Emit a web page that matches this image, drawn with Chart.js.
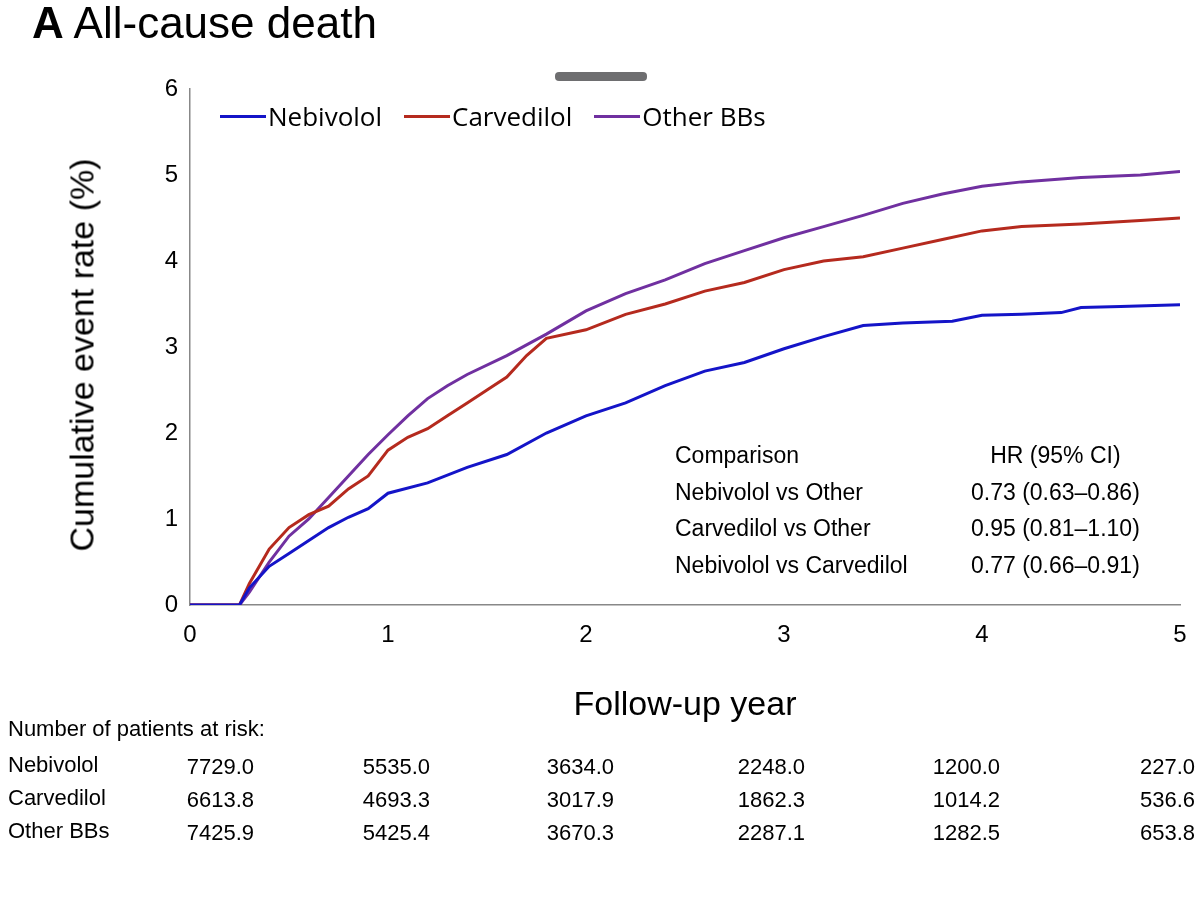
<!DOCTYPE html>
<html><head><meta charset="utf-8">
<script src="https://cdn.jsdelivr.net/npm/chart.js@4.4.7/dist/chart.umd.min.js"></script>
<style>
body{margin:0;background:#fff;font-family:"Liberation Sans",Arial,sans-serif;}
#wrap{position:relative;width:1200px;height:901px;overflow:hidden;}
.abs{position:absolute;white-space:nowrap;color:#000;}
#box{position:absolute;left:0;top:0;width:1200px;height:730px;}
.leg{font-size:26px;display:flex;align-items:center;font-family:"Open Sans",sans-serif;}
.leg span.l{display:inline-block;width:46px;height:3px;margin-right:2px;}
.rt{font-size:22px;}
</style></head><body>
<div id="wrap">
<div id="box"><canvas id="c"></canvas></div>
<div class="abs" style="left:32px;top:-2px;font-size:44px;"><b>A</b> All-cause death</div>
<div class="abs" style="left:555px;top:72px;width:92px;height:9px;background:#6e6e70;border-radius:4px;"></div>
<div class="abs" style="left:82px;top:355px;font-size:34px;transform:translate(-50%,-50%) rotate(-90deg);">Cumulative event rate (%)</div>
<div id="legend" class="abs" style="left:220px;top:98px;display:flex;gap:22px;"></div>
<div id="hr" class="abs" style="left:675px;top:437px;line-height:36.5px;"></div>
<div id="risk" class="abs rt" style="left:0;top:0;width:1200px;height:901px;"></div>
</div>
<script>
// follow-up years and cumulative event rate (%)
const nebX = [0,0.25,0.3,0.4,0.5,0.6,0.7,0.8,0.9,1.0,1.2,1.4,1.6,1.8,2.0,2.2,2.4,2.6,2.8,3.0,3.2,3.4,3.6,3.85,4.0,4.2,4.4,4.5,4.7,5.0];
const nebY = [0,0,0.2,0.45,0.6,0.75,0.9,1.02,1.12,1.3,1.42,1.6,1.75,2.0,2.2,2.35,2.55,2.72,2.82,2.98,3.12,3.25,3.28,3.3,3.37,3.38,3.4,3.46,3.47,3.49];
const carX = [0,0.25,0.3,0.4,0.5,0.6,0.7,0.8,0.9,1.0,1.1,1.2,1.3,1.4,1.5,1.6,1.7,1.8,2.0,2.2,2.4,2.6,2.8,3.0,3.2,3.4,3.6,3.8,4.0,4.2,4.5,4.8,5.0];
const carY = [0,0,0.25,0.65,0.9,1.05,1.15,1.35,1.5,1.8,1.95,2.05,2.2,2.35,2.5,2.65,2.9,3.1,3.2,3.38,3.5,3.65,3.75,3.9,4.0,4.05,4.15,4.25,4.35,4.4,4.43,4.47,4.5];
const othX = [0,0.25,0.3,0.4,0.5,0.6,0.7,0.8,0.9,1.0,1.1,1.2,1.3,1.4,1.6,1.8,2.0,2.2,2.4,2.6,2.8,3.0,3.2,3.4,3.6,3.8,4.0,4.2,4.5,4.8,5.0];
const othY = [0,0,0.15,0.5,0.8,1.0,1.25,1.5,1.75,1.98,2.2,2.4,2.55,2.68,2.9,3.15,3.42,3.62,3.78,3.97,4.12,4.27,4.4,4.53,4.67,4.78,4.87,4.92,4.97,5.0,5.04];
const seriesNames = ['Nebivolol','Carvedilol','Other BBs'];
const seriesColors = ['#1414c8','#b52a1e','#7030a0'];
const hrRows = [['Comparison','HR (95% CI)'],['Nebivolol vs Other','0.73 (0.63\u20130.86)'],['Carvedilol vs Other','0.95 (0.81\u20131.10)'],['Nebivolol vs Carvedilol','0.77 (0.66\u20130.91)']];
const riskNeb = ['7729.0','5535.0','3634.0','2248.0','1200.0','227.0'];
const riskCar = ['6613.8','4693.3','3017.9','1862.3','1014.2','536.6'];
const riskOth = ['7425.9','5425.4','3670.3','2287.1','1282.5','653.8'];

const pts = (xs, ys) => xs.map((x, i) => ({ x, y: ys[i] }));
const allPts = [pts(nebX, nebY), pts(carX, carY), pts(othX, othY)];

new Chart(document.getElementById('c'), {
  type: 'line',
  data: { datasets: seriesNames.map((n, i) => ({ label: n, data: allPts[i], borderColor: seriesColors[i], borderWidth: 3, pointRadius: 0, tension: 0 })) },
  options: {
    responsive: true, maintainAspectRatio: false, animation: false,
    layout: { padding: { top: 89, right: 20 } },
    plugins: { legend: { display: false }, tooltip: { enabled: false } },
    scales: {
      x: { type: 'linear', min: 0, max: 5,
        ticks: { stepSize: 1, color: '#000', font: { size: 24, family: 'Liberation Sans' }, padding: 8 },
        grid: { display: false, drawTicks: true, tickLength: 8, tickColor: '#888' },
        border: { color: '#888', width: 1.5 },
        title: { display: true, text: 'Follow-up year', color: '#000', font: { size: 34, family: 'Liberation Sans' }, padding: { top: 16 } },
        afterFit: (s) => { s.height = 125; } },
      y: { min: 0, max: 6,
        ticks: { stepSize: 1, color: '#000', font: { size: 24, family: 'Liberation Sans' }, padding: 4 },
        grid: { display: false, drawTicks: true, tickLength: 8, tickColor: '#888' },
        border: { color: '#888', width: 1.5 },
        afterFit: (s) => { s.width = 190; } }
    }
  }
});

document.getElementById('legend').innerHTML = seriesNames.map((n, i) =>
  `<div class="leg"><span class="l" style="background:${seriesColors[i]}"></span>${n}</div>`).join('');
document.getElementById('hr').innerHTML = '<table style="border-collapse:collapse;font-size:23px">' +
  hrRows.map((r, i) => `<tr><td style="padding:0;width:296px">${r[0]}</td><td style="padding:0;${i===0?'text-align:center':''}">${r[1]}</td></tr>`).join('') + '</table>';

const rightEdges = [254, 430, 614, 805, 1000, 1195];
const rowTops = [752, 785, 818];
let h = `<div class="abs" style="left:8px;top:716px">Number of patients at risk:</div>`;
[riskNeb, riskCar, riskOth].forEach((row, r) => {
  h += `<div class="abs" style="left:8px;top:${rowTops[r]}px">${seriesNames[r]}</div>`;
  row.forEach((v, j) => { h += `<div class="abs" style="right:${1200 - rightEdges[j]}px;top:${rowTops[r] + 2}px">${v}</div>`; });
});
document.getElementById('risk').innerHTML = h;
</script>
</body></html>
